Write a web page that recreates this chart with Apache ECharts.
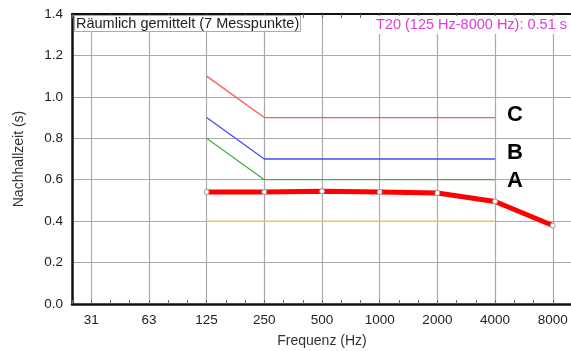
<!DOCTYPE html>
<html>
<head>
<meta charset="utf-8">
<script src="https://cdn.jsdelivr.net/npm/echarts@6/dist/echarts.min.js"></script>
<style>
html, body { margin: 0; padding: 0; background: #fff; }
#chart { width: 571px; height: 351px; }
</style>
</head>
<body>
<div id="chart"></div>
<script>
// Frequenzbaender (Oktaven)
var freqLabels = ['31', '63', '125', '250', '500', '1000', '2000', '4000', '8000'];
var yTicks = [0, 0.2, 0.4, 0.6, 0.8, 1.0, 1.2, 1.4];

// gemessene Nachhallzeit T20
var t20 = [null, null, 0.541, 0.541, 0.544, 0.541, 0.536, 0.495, 0.379];
// Toleranzbereiche
var limitC = [null, null, 1.1, 0.9, 0.9, 0.9, 0.9, 0.9, null];
var limitB = [null, null, 0.9, 0.7, 0.7, 0.7, 0.7, 0.7, null];
var limitA = [null, null, 0.8, 0.6, 0.6, 0.6, 0.6, 0.6, null];
var limitLow = [null, null, 0.4, 0.4, 0.4, 0.4, 0.4, 0.4, null];

// every band gets three slots so the small ticks fall on thirds
var slots = [];
for (var k = 0; k <= freqLabels.length * 3 - 1; k++) slots.push(String(k));

function toPoints(vals) {
    var out = [];
    vals.forEach(function (v, i) {
        if (v !== null) out.push([3 * i + 1, v]);
    });
    return out;
}
function isBand(index) { return index % 3 === 1; }

var font = 'Liberation Sans, Arial, sans-serif';

var myChart = echarts.init(document.getElementById('chart'));
var option = {
    animation: false,
    textStyle: { fontFamily: font },
    title: [{
        text: 'Räumlich gemittelt (7 Messpunkte)',
        left: 74,
        top: 15,
        z: 10,
        padding: [1, 2, 1, 2],
        borderColor: '#aaa',
        borderWidth: 1,
        backgroundColor: '#fff',
        textStyle: { fontSize: 14.5, fontWeight: 'normal', color: '#222', fontFamily: font }
    }, {
        text: 'T20 (125 Hz-8000 Hz): 0.51 s',
        right: 3,
        top: 16,
        z: 10,
        padding: [1, 1, 2, 1],
        backgroundColor: '#fff',
        textStyle: { fontSize: 14.5, fontWeight: 'normal', color: '#e03ce0', fontFamily: font }
    }],
    grid: { left: 72, top: 14, width: 500, bottom: 47, outerBoundsMode: 'none', containLabel: false },
    xAxis: [{
        type: 'category',
        data: slots,
        boundaryGap: false,
        position: 'bottom',
        name: 'Frequenz (Hz)',
        nameLocation: 'middle',
        nameGap: 30,
        nameTextStyle: { fontSize: 14, color: '#333' },
        axisLine: { lineStyle: { color: '#111', width: 2.5 } },
        axisTick: { show: true, inside: true, length: 4, interval: 0, lineStyle: { color: '#666' } },
        axisLabel: {
            interval: isBand,
            margin: 9,
            fontSize: 13.5,
            color: '#222',
            formatter: function (v, index) { return isBand(index) ? freqLabels[(index - 1) / 3] : ''; }
        },
        splitLine: { show: true, interval: isBand, lineStyle: { color: '#aaa', width: 1.2 } }
    }, {
        type: 'category',
        data: slots,
        boundaryGap: false,
        position: 'top',
        axisLine: { lineStyle: { color: '#111', width: 2 } },
        axisTick: { show: true, inside: true, length: 4, interval: 0, lineStyle: { color: '#666' } },
        axisLabel: { show: false },
        splitLine: { show: false }
    }],
    yAxis: {
        type: 'value',
        min: yTicks[0],
        max: yTicks[yTicks.length - 1],
        interval: 0.2,
        name: 'Nachhallzeit (s)',
        nameLocation: 'middle',
        nameGap: 46,
        nameTextStyle: { fontSize: 14, color: '#333' },
        axisLine: { show: true, lineStyle: { color: '#111', width: 2.5 } },
        axisTick: { show: false },
        axisLabel: {
            fontSize: 13.5,
            color: '#222',
            margin: 9,
            formatter: function (v) { return v.toFixed(1); }
        },
        splitLine: { show: true, lineStyle: { color: '#aaa', width: 1.2 } }
    },
    series: [{
        name: 'unten',
        type: 'line',
        data: toPoints(limitLow),
        showSymbol: false,
        lineStyle: { color: '#ffc266', width: 1.3 },
        z: 2
    }, {
        name: 'A',
        type: 'line',
        data: toPoints(limitA),
        showSymbol: false,
        lineStyle: { color: '#44b044', width: 1.3 },
        endLabel: { show: true, formatter: 'A', distance: 12, offset: [0, 1], fontSize: 22, fontWeight: 'bold', color: '#000' },
        z: 2
    }, {
        name: 'B',
        type: 'line',
        data: toPoints(limitB),
        showSymbol: false,
        lineStyle: { color: '#4a4aff', width: 1.3 },
        endLabel: { show: true, formatter: 'B', distance: 12, offset: [0, -6], fontSize: 22, fontWeight: 'bold', color: '#000' },
        z: 2
    }, {
        name: 'C',
        type: 'line',
        data: toPoints(limitC),
        showSymbol: false,
        lineStyle: { color: '#ff5a5a', width: 1.3 },
        endLabel: { show: true, formatter: 'C', distance: 12, offset: [0, -3], fontSize: 22, fontWeight: 'bold', color: '#000' },
        z: 2
    }, {
        name: 'T20',
        type: 'line',
        data: toPoints(t20),
        symbol: 'circle',
        symbolSize: 5,
        itemStyle: { color: '#fff', borderColor: '#999', borderWidth: 1 },
        lineStyle: { color: '#ff0000', width: 5 },
        z: 3
    }]
};
myChart.setOption(option);
</script>
</body>
</html>
